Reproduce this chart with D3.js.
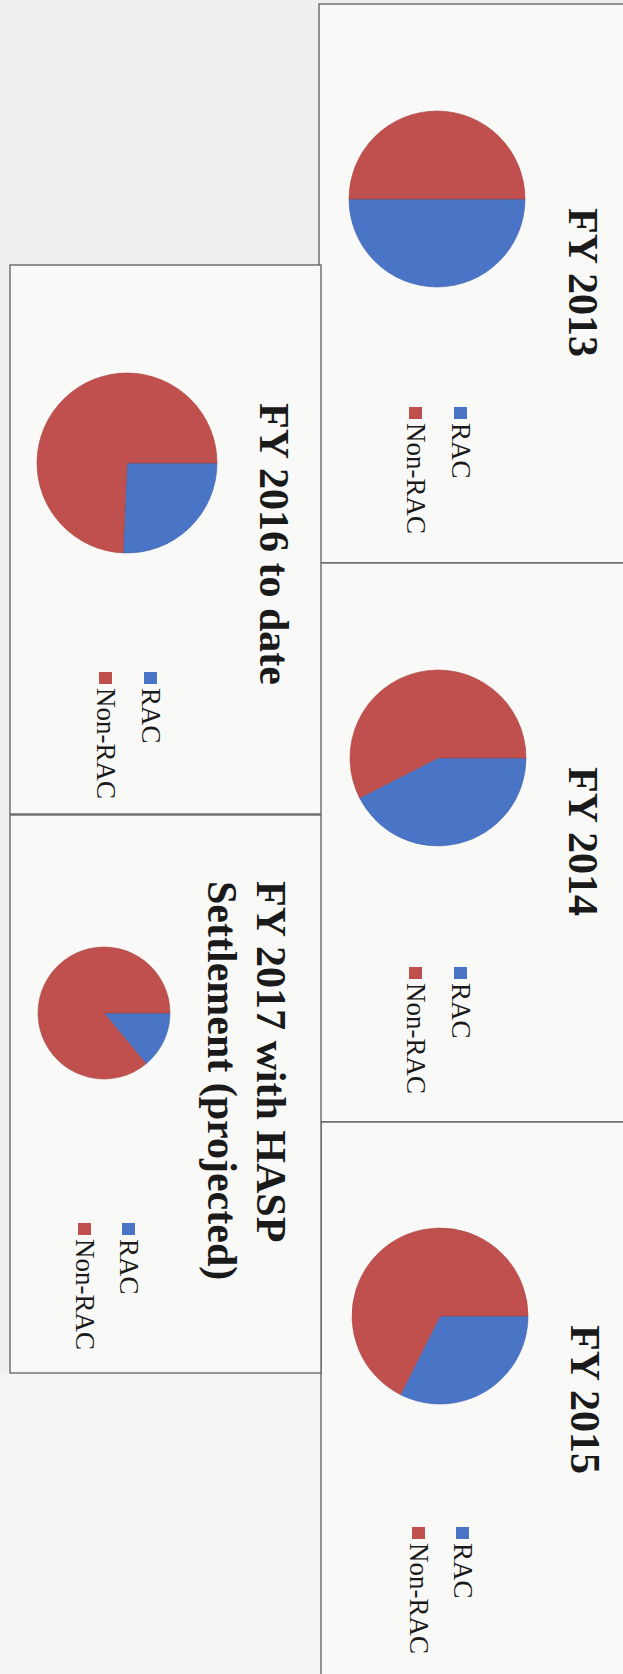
<!DOCTYPE html>
<html>
<head>
<meta charset="utf-8">
<script src="https://cdn.jsdelivr.net/npm/d3@7"></script>
<style>
  html, body { margin: 0; padding: 0; background: #efefed; }
  svg { display: block; }
  text { font-family: "Liberation Serif", "Times New Roman", serif; fill: #1a1a1a; }
</style>
</head>
<body>
<svg id="page" width="623" height="1674"></svg>
<script>
// ---- data -------------------------------------------------------------
const chartTitles = [
  ["FY 2013"],
  ["FY 2014"],
  ["FY 2015"],
  ["FY 2016 to date"],
  ["FY 2017 with HASP", "Settlement (projected)"]
];
const seriesNames = ["RAC", "Non-RAC"];
const racShare    = [50, 42.5, 32.4, 25.7, 14.0];   // percent of total
const nonRacShare = [50, 57.5, 67.6, 74.3, 86.0];

// ---- styling / layout ----------------------------------------------------
const seriesColors = ["#4a74c6", "#c0504d"];

// Each panel is a landscape chart turned a quarter clockwise on the page.
// box: panel frame; pie: centre + radius; title: first baseline x, start y;
// legend: baseline x of each row, start y of the text.
const layout = [
  { box: [319, 4, 330, 559],   pie: [437, 199, 88],  title: [569, 208], legend: { rows: [452, 407], y: 423 } },
  { box: [319, 563, 330, 559], pie: [438, 758, 88],  title: [569, 767], legend: { rows: [452, 407], y: 983 } },
  { box: [321, 1122, 330, 600], pie: [440, 1316, 88], title: [571, 1325], legend: { rows: [454, 410], y: 1543 } },
  { box: [10, 265, 311, 549],  pie: [127, 463, 90],  title: [260, 403], legend: { rows: [142, 97], y: 688 } },
  { box: [10, 815, 311, 558],  pie: [104, 1013, 66], title: [257, 881], legend: { rows: [120, 76], y: 1239 } }
];

const svg = d3.select("#page");

// lighter paper below the left column
svg.append("rect")
  .attr("x", 0).attr("y", 1373).attr("width", 322).attr("height", 301)
  .attr("fill", "#f5f5f3");

// panel frames
const panels = svg.append("g");
panels.selectAll("rect")
  .data(layout)
  .join("rect")
  .attr("x", d => d.box[0]).attr("y", d => d.box[1])
  .attr("width", d => d.box[2]).attr("height", d => d.box[3])
  .attr("fill", "#f9f9f8")
  .attr("stroke", "#5e5e5e")
  .attr("stroke-width", 1.3);

const pie = d3.pie().sort(null).value(d => d.value);
const colorScale = d3.scaleOrdinal().domain(seriesNames).range(seriesColors);

layout.forEach((L, i) => {
  const values = [
    { name: seriesNames[0], value: racShare[i] },
    { name: seriesNames[1], value: nonRacShare[i] }
  ];
  const [cx, cy, r] = L.pie;
  const arc = d3.arc().innerRadius(0).outerRadius(r);

  // pie, rotated so the first slice starts at the page's right side
  svg.append("g")
    .attr("transform", `translate(${cx},${cy}) rotate(90)`)
    .selectAll("path")
    .data(pie(values))
    .join("path")
    .attr("d", arc)
    .attr("fill", d => colorScale(d.data.name))
    .attr("stroke", d => d3.color(colorScale(d.data.name)).darker(0.4))
    .attr("stroke-width", 0.6);

  // title
  const [tx, ty] = L.title;
  const tg = svg.append("g").attr("transform", `translate(${tx},${ty}) rotate(90)`);
  tg.selectAll("text")
    .data(chartTitles[i])
    .join("text")
    .attr("x", 0)
    .attr("y", (d, k) => k * 49)
    .attr("font-size", 42)
    .attr("font-weight", "bold")
    .text(d => d);

  // legend
  seriesNames.forEach((name, k) => {
    const lg = svg.append("g")
      .attr("transform", `translate(${L.legend.rows[k]},${L.legend.y}) rotate(90)`);
    lg.append("rect")
      .attr("x", -16).attr("y", -15)
      .attr("width", 12).attr("height", 13)
      .attr("fill", colorScale(name));
    lg.append("text")
      .attr("x", 0).attr("y", 0)
      .attr("font-size", 27)
      .text(name);
  });
});
</script>
</body>
</html>
